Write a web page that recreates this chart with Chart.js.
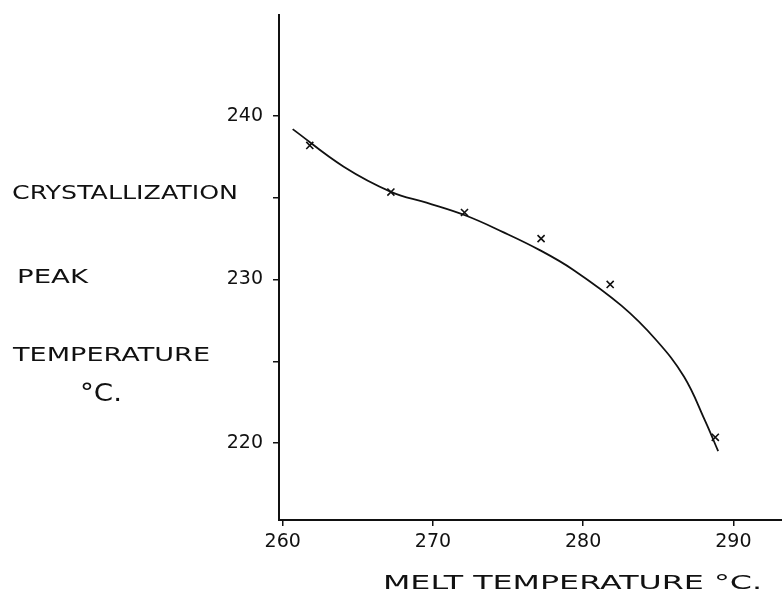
<!DOCTYPE html>
<html>
<head>
<meta charset="utf-8">
<script src="https://cdn.jsdelivr.net/npm/chart.js@4"></script>
<style>
  html, body { margin: 0; padding: 0; background: #fff; overflow: hidden; }
  /* a few px wider than the window so the x axis runs off the right edge */
  #wrap { width: 788px; height: 601px; }
</style>
</head>
<body>
<div id="wrap"><canvas id="chartMelt"></canvas></div>
<script>
// measured crosses (melt temp, crystallization peak temp)
const meltTemps = [261.8, 267.2, 272.1, 277.2, 281.8, 288.8];
const peakTemps = [238.2, 235.35, 234.1, 232.5, 229.7, 220.35];

// hand-drawn fitted curve
const curveX = [260.66, 264.06, 267.24, 269.57, 272.22, 274.67, 277.11, 279.33, 282.55, 284.86, 286.72, 288.1, 288.99];
const curveY = [239.2, 236.9, 235.35, 234.7, 233.9, 232.9, 231.8, 230.6, 228.4, 226.3, 224.05, 221.4, 219.5];

// axis ticks
const xTicks = [260, 270, 280, 290];
const yTicks = [220, 225, 230, 235, 240];
const yLabelled = [220, 230, 240];

const INK = '#111';
const HAND = '"DejaVu Sans", sans-serif';

// draw text squeezed/stretched to a given width
function drawFitted(ctx, text, x, y, width, size) {
  ctx.save();
  ctx.font = size + 'px ' + HAND;
  ctx.fillStyle = INK;
  ctx.textBaseline = 'alphabetic';
  const w = ctx.measureText(text).width;
  ctx.translate(x, y);
  ctx.scale(width / w, 1);
  ctx.fillText(text, 0, 0);
  ctx.restore();
}

const labelPlugin = {
  id: 'handLabels',
  afterDraw(chart) {
    const ctx = chart.ctx;
    drawFitted(ctx, 'CRYSTALLIZATION', 12, 199, 226, 20);
    drawFitted(ctx, 'PEAK', 17, 283, 71, 20);
    drawFitted(ctx, 'TEMPERATURE', 13, 361, 197, 20);
    drawFitted(ctx, '°C.', 80, 401, 42, 25);
    drawFitted(ctx, 'MELT TEMPERATURE °C.', 383, 589, 379, 20);
  }
};

const ctxMelt = document.getElementById('chartMelt');
new Chart(ctxMelt, {
  type: 'scatter',
  data: {
    datasets: [
      {
        label: 'curve',
        type: 'line',
        data: curveX.map((x, i) => ({ x: x, y: curveY[i] })),
        borderColor: INK,
        borderWidth: 1.8,
        pointRadius: 0,
        tension: 0.4,
        fill: false
      },
      {
        label: 'measured',
        data: meltTemps.map((x, i) => ({ x: x, y: peakTemps[i] })),
        pointStyle: 'crossRot',
        pointRadius: 5,
        borderColor: INK,
        borderWidth: 1.6
      }
    ]
  },
  options: {
    responsive: true,
    maintainAspectRatio: false,
    animation: false,
    layout: { padding: { top: 15, right: 0, left: 0, bottom: 0 } },
    plugins: {
      legend: { display: false },
      tooltip: { enabled: false }
    },
    scales: {
      x: {
        type: 'linear',
        min: 259.75,
        max: 293.2,
        afterBuildTicks: axis => { axis.ticks = xTicks.map(v => ({ value: v })); },
        afterFit: axis => {
          axis.height = 81;
          axis.paddingLeft = 0;
          axis.paddingRight = 0;
        },
        border: { display: true, color: INK, width: 2 },
        grid: { drawOnChartArea: false, color: INK, tickLength: 6, lineWidth: 1.5 },
        ticks: {
          color: INK,
          padding: 5,
          font: { family: HAND, size: 19 }
        }
      },
      y: {
        min: 215.29,
        max: 246.18,
        afterBuildTicks: axis => { axis.ticks = yTicks.map(v => ({ value: v })); },
        afterFit: axis => {
          axis.width = 279;
          axis.paddingTop = 0;
          axis.paddingBottom = 0;
        },
        border: { display: true, color: INK, width: 2 },
        grid: { drawOnChartArea: false, color: INK, tickLength: 6, lineWidth: 1.5 },
        ticks: {
          color: INK,
          padding: 10,
          font: { family: HAND, size: 19 },
          callback: v => yLabelled.includes(v) ? String(v) : ''
        }
      }
    }
  },
  plugins: [labelPlugin]
});
</script>
</body>
</html>
